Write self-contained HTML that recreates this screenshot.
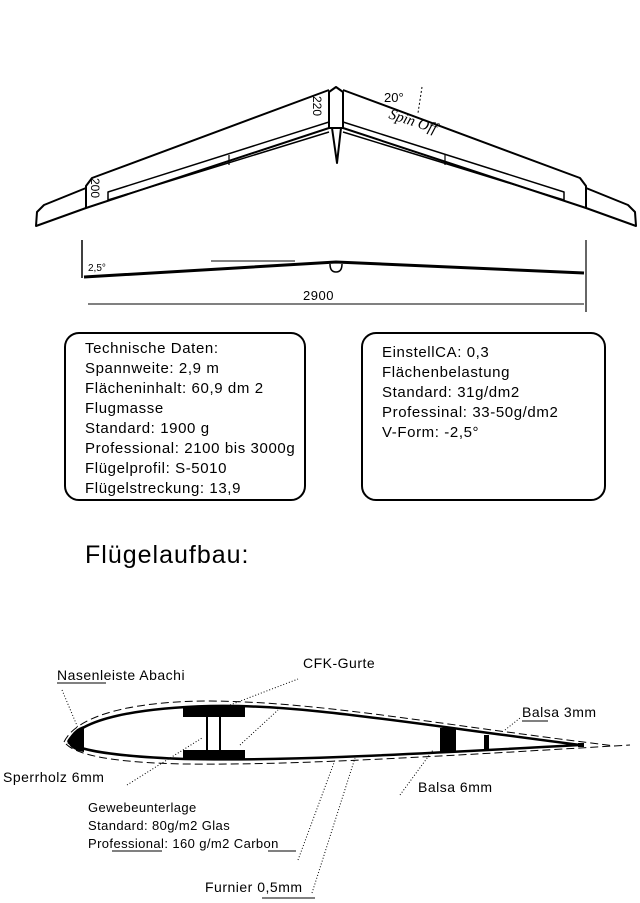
<!DOCTYPE html>
<html><head><meta charset="utf-8"><style>
body{margin:0;background:#fff;}
svg{display:block;font-family:"Liberation Sans",sans-serif;}
</style></head><body>
<svg width="640" height="903" viewBox="0 0 640 903" xmlns="http://www.w3.org/2000/svg">
<g fill="none" stroke="#000" stroke-width="2" stroke-linejoin="round">
<!-- left wing -->
<polyline points="329,90 92,178 86,186 86,208 329,128"/>
<polyline points="86,188 44,205 37,212 36,226 86,208"/>
<polyline points="329,122 108,192 108,200 329,132" stroke-width="1.5"/>
<line x1="229" y1="155" x2="229" y2="165" stroke-width="1.2"/>
<!-- right wing -->
<polyline points="343,90 580,178 586,186 586,208 343,128"/>
<polyline points="586,188 628,205 635,212 636,226 586,208"/>
<polyline points="343,122 564,192 564,200 343,132" stroke-width="1.5"/>
<line x1="445" y1="155" x2="445" y2="165" stroke-width="1.2"/>
<!-- fuselage -->
<path d="M329,92 L336,87 L343,92 L343,128 L329,128 Z"/>
<path d="M332,128 L337,163 L341,128" stroke-width="2"/>
<line x1="422" y1="87" x2="418" y2="113" stroke-width="1" stroke-dasharray="2,2"/>
<!-- front view -->
<line x1="82" y1="240" x2="82" y2="278" stroke-width="1.5"/>
<line x1="586" y1="240" x2="586" y2="312" stroke-width="1.2"/>
<polyline points="84,277 336,262 584,273" stroke-width="3"/>
<line x1="211" y1="261" x2="295" y2="261" stroke-width="1"/>
<path d="M330,264 Q330,272 336,272 Q342,272 342,264" stroke-width="1.5"/>
<line x1="88" y1="304" x2="584" y2="304" stroke-width="1"/>
<!-- boxes -->
<rect x="65" y="333" width="240" height="167" rx="14"/>
<rect x="362" y="333" width="243" height="167" rx="14"/>
<!-- airfoil -->
<path d="M68,742 C80,718 140,708 210,706 C300,704 400,722 580,745" stroke-width="2.5"/>
<path d="M68,742 C80,752 130,757 185,759 C280,761 380,756 580,745" stroke-width="2.5"/>
<path d="M64,742 C78,713 140,701 210,701 C320,702 420,722 615,746" stroke-width="1" stroke-dasharray="8,4"/>
<path d="M66,744 C80,758 130,763 185,764 C280,765 380,760 630,745" stroke-width="1" stroke-dasharray="8,4"/>
<line x1="207" y1="716" x2="207" y2="752"/>
<line x1="220" y1="716" x2="220" y2="752"/>
<g stroke-width="1" stroke-dasharray="1,2">
<line x1="62" y1="690" x2="78" y2="728"/>
<line x1="230" y1="705" x2="298" y2="679"/>
<line x1="240" y1="745" x2="278" y2="710"/>
<line x1="127" y1="785" x2="202" y2="738"/>
<line x1="298" y1="860" x2="335" y2="760"/>
<line x1="312" y1="893" x2="355" y2="758"/>
<line x1="400" y1="795" x2="433" y2="750"/>
<line x1="505" y1="730" x2="520" y2="718"/>
</g>
<g stroke-width="1">
<line x1="57" y1="683" x2="106" y2="683"/>
<line x1="522" y1="721" x2="548" y2="721"/>
<line x1="112" y1="851" x2="162" y2="851"/>
<line x1="268" y1="851" x2="296" y2="851"/>
<line x1="262" y1="898" x2="315" y2="898"/>
</g>
</g>
<g fill="#000">
<rect x="183" y="706" width="62" height="11"/>
<rect x="183" y="750" width="62" height="10"/>
<rect x="440" y="728" width="16" height="24"/>
<rect x="484" y="735" width="5" height="15"/>
<path d="M68,742 C70,735 76,728 84,726 L84,752 C76,751 70,748 68,742 Z"/>
<rect x="578" y="743" width="6" height="4"/>
</g>
<g font-size="12">
<text transform="translate(313,96) rotate(90)">220</text>
<text transform="translate(91,178) rotate(90)">200</text>
<text x="384" y="102" font-size="13">20°</text>
<text x="88" y="271" font-size="10">2,5°</text>
<text x="303" y="300" font-size="13" letter-spacing="0.5">2900</text>
<text transform="translate(388,118) rotate(18)" font-family="Liberation Serif,serif" font-style="italic" font-size="15">Spin Off</text>
</g>
<g font-size="15" letter-spacing="0.6">
<text x="85" y="353">Technische Daten:</text>
<text x="85" y="373">Spannweite: 2,9 m</text>
<text x="85" y="393">Flächeninhalt: 60,9 dm 2</text>
<text x="85" y="413">Flugmasse</text>
<text x="85" y="433">Standard: 1900 g</text>
<text x="85" y="453">Professional: 2100 bis 3000g</text>
<text x="85" y="473">Flügelprofil: S-5010</text>
<text x="85" y="493">Flügelstreckung: 13,9</text>
<text x="382" y="357">EinstellCA: 0,3</text>
<text x="382" y="377">Flächenbelastung</text>
<text x="382" y="397">Standard: 31g/dm2</text>
<text x="382" y="417">Professinal: 33-50g/dm2</text>
<text x="382" y="437">V-Form: -2,5°</text>
</g>
<text x="85" y="563" font-size="25" letter-spacing="1">Flügelaufbau:</text>
<g font-size="14" letter-spacing="0.5">
<text x="57" y="680">Nasenleiste Abachi</text>
<text x="303" y="668">CFK-Gurte</text>
<text x="522" y="717">Balsa 3mm</text>
<text x="3" y="782">Sperrholz 6mm</text>
<text x="418" y="792">Balsa 6mm</text>
<text x="205" y="892">Furnier 0,5mm</text>
</g>
<g font-size="13" letter-spacing="0.4">
<text x="88" y="812">Gewebeunterlage</text>
<text x="88" y="830">Standard: 80g/m2 Glas</text>
<text x="88" y="848">Professional: 160 g/m2 Carbon</text>
</g>
</svg>
</body></html>
